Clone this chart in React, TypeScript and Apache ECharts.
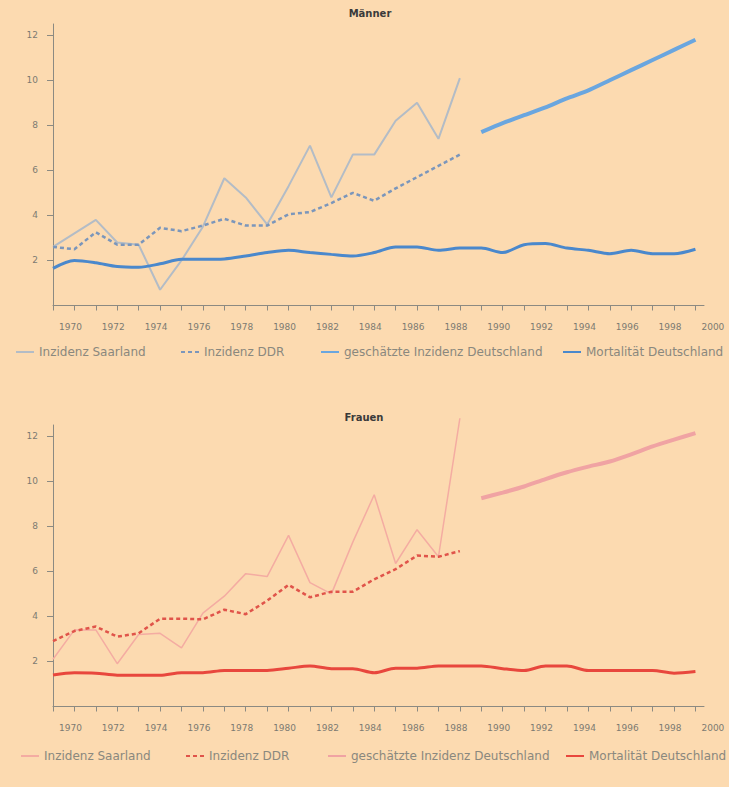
import React, { useEffect, useRef } from "react";
import * as echarts from "echarts";

// ---- categories / ticks ----
const yearsIncidence = [1970, 1971, 1972, 1973, 1974, 1975, 1976, 1977, 1978, 1979, 1980, 1981, 1982, 1983, 1984, 1985, 1986, 1987, 1988, 1989];
const yearsEstimate = [1990, 1991, 1992, 1993, 1994, 1995, 1996, 1997, 1998, 1999, 2000];
const yearsMortality = [1970, 1971, 1972, 1973, 1974, 1975, 1976, 1977, 1978, 1979, 1980, 1981, 1982, 1983, 1984, 1985, 1986, 1987, 1988, 1989, 1990, 1991, 1992, 1993, 1994, 1995, 1996, 1997, 1998, 1999, 2000];
const xLabelYears = [1970, 1972, 1974, 1976, 1978, 1980, 1982, 1984, 1986, 1988, 1990, 1992, 1994, 1996, 1998, 2000];
const yTickValues = [2, 4, 6, 8, 10, 12];

const legendNames = ["Inzidenz Saarland", "Inzidenz DDR", "geschätzte Inzidenz Deutschland", "Mortalität Deutschland"];
const panelTitles = ["Männer", "Frauen"];

// ---- Männer ----
const menSaarland = [2.6, 3.2, 3.8, 2.8, 2.7, 0.7, 2.0, 3.5, 5.65, 4.8, 3.6, 5.3, 7.1, 4.8, 6.7, 6.7, 8.2, 9.0, 7.4, 10.1];
const menDDR = [2.6, 2.5, 3.25, 2.7, 2.7, 3.45, 3.3, 3.55, 3.85, 3.55, 3.55, 4.05, 4.15, 4.55, 5.0, 4.65, 5.2, 5.7, 6.2, 6.7];
const menEstimate = [7.7, 8.1, 8.45, 8.8, 9.2, 9.55, 10.0, 10.45, 10.9, 11.35, 11.8];
const menMortality = [1.65, 2.0, 1.9, 1.73, 1.7, 1.85, 2.05, 2.05, 2.07, 2.2, 2.35, 2.45, 2.35, 2.27, 2.2, 2.35, 2.6, 2.6, 2.45, 2.55, 2.55, 2.35, 2.7, 2.75, 2.55, 2.45, 2.3, 2.45, 2.3, 2.3, 2.5];

// ---- Frauen ----
const womenSaarland = [2.1, 3.4, 3.4, 1.9, 3.2, 3.25, 2.6, 4.15, 4.9, 5.9, 5.77, 7.6, 5.5, 5.0, 7.3, 9.4, 6.35, 7.85, 6.65, 12.8];
const womenDDR = [2.9, 3.35, 3.55, 3.1, 3.25, 3.9, 3.9, 3.87, 4.3, 4.1, 4.7, 5.4, 4.85, 5.1, 5.1, 5.65, 6.1, 6.7, 6.65, 6.9];
const womenEstimate = [9.25, 9.5, 9.77, 10.1, 10.4, 10.65, 10.88, 11.2, 11.55, 11.85, 12.14];
const womenMortality = [1.4, 1.5, 1.48, 1.39, 1.39, 1.39, 1.5, 1.5, 1.6, 1.6, 1.6, 1.7, 1.8, 1.68, 1.68, 1.5, 1.7, 1.7, 1.8, 1.8, 1.8, 1.68, 1.6, 1.8, 1.8, 1.6, 1.6, 1.6, 1.6, 1.48, 1.55];

const BG = "#fcdab0";
const AXIS = "#8c8a82";
const LABEL = "#7c7a72";
const FONT = "'DejaVu Sans', 'Liberation Sans', sans-serif";
const SUFFIX = " (Frauen)";

function pairs(xs: number[], ys: number[]) {
  return xs.map((x, i) => [x, ys[i]]);
}

const grids = [
  { left: 53, top: 24, width: 651, height: 281.5 },
  { left: 53, top: 425, width: 651, height: 281.5 },
];

function xAxis(gridIndex: number) {
  return {
    type: "value",
    gridIndex,
    min: 1970,
    max: 2000.4,
    interval: 2,
    axisLine: { show: true, onZero: false, lineStyle: { color: AXIS, width: 1 } },
    axisTick: { show: true, customValues: yearsMortality, length: 5, lineStyle: { color: AXIS } },
    axisLabel: {
      customValues: xLabelYears,
      formatter: (v: number) => String(v),
      align: "left",
      padding: [0, 0, 0, 6],
      margin: 17,
      fontSize: 9,
      color: LABEL,
      fontFamily: FONT,
    },
    splitLine: { show: false },
  };
}

function yAxis(gridIndex: number) {
  return {
    type: "value",
    gridIndex,
    min: 0,
    max: 12.5,
    interval: 2,
    axisLine: { show: true, onZero: false, lineStyle: { color: AXIS, width: 1 } },
    axisTick: { show: true, customValues: yTickValues, length: 6, lineStyle: { color: AXIS } },
    axisLabel: {
      customValues: yTickValues,
      formatter: (v: number) => String(v),
      margin: 15,
      fontSize: 9,
      color: LABEL,
      fontFamily: FONT,
    },
    splitLine: { show: false },
  };
}

function panelSeries(
  idx: number,
  suffix: string,
  saar: number[],
  ddr: number[],
  est: number[],
  mort: number[],
  colors: { saar: string; ddr: string; est: string; mort: string },
  saarWidth: number
) {
  return [
    {
      name: legendNames[0] + suffix,
      type: "line",
      xAxisIndex: idx,
      yAxisIndex: idx,
      data: pairs(yearsIncidence, saar),
      symbol: "none",
      clip: false,
      lineStyle: { color: colors.saar, width: saarWidth },
      itemStyle: { color: colors.saar },
      z: 2,
    },
    {
      name: legendNames[1] + suffix,
      type: "line",
      xAxisIndex: idx,
      yAxisIndex: idx,
      data: pairs(yearsIncidence, ddr),
      symbol: "none",
      lineStyle: { color: colors.ddr, width: 2.5, type: [4, 3] },
      itemStyle: { color: colors.ddr },
      z: 3,
    },
    {
      name: legendNames[2] + suffix,
      type: "line",
      xAxisIndex: idx,
      yAxisIndex: idx,
      data: pairs(yearsEstimate, est),
      symbol: "none",
      smooth: 0.2,
      lineStyle: { color: colors.est, width: 4 },
      itemStyle: { color: colors.est },
      z: 3,
    },
    {
      name: legendNames[3] + suffix,
      type: "line",
      xAxisIndex: idx,
      yAxisIndex: idx,
      data: pairs(yearsMortality, mort),
      symbol: "none",
      smooth: 0.3,
      lineStyle: { color: colors.mort, width: 3 },
      itemStyle: { color: colors.mort },
      z: 4,
    },
  ];
}

function legends(top: number, suffix: string, lefts: number[]) {
  return legendNames.map((n, i) => ({
    top,
    left: lefts[i],
    padding: 0,
    itemWidth: 18,
    itemHeight: 10,
    selectedMode: false,
    itemStyle: { opacity: 0 },
    data: [n + suffix],
    formatter: (s: string) => s.replace(SUFFIX, ""),
    textStyle: { fontSize: 12, color: "#8a887e", fontFamily: FONT },
  }));
}

export default function App() {
  const ref = useRef<HTMLDivElement>(null);

  useEffect(() => {
    document.body.style.margin = "0";
    document.body.style.background = BG;
    const chart = echarts.init(ref.current!, undefined, { renderer: "svg" });
    const blue = { saar: "#b3bcc6", ddr: "#7b96bb", est: "#6aa6df", mort: "#4a88cc" };
    const red = { saar: "#f4aca2", ddr: "#e0544a", est: "#f0a3a3", mort: "#e8473d" };
    chart.setOption({
      animation: false,
      backgroundColor: BG,
      grid: grids,
      xAxis: [xAxis(0), xAxis(1)],
      yAxis: [yAxis(0), yAxis(1)],
      legend: [
        ...legends(346, "", [15, 180, 320, 562]),
        ...legends(750, SUFFIX, [20, 185, 327, 565]),
      ],
      graphic: [
        {
          type: "text",
          x: 370,
          y: 13,
          style: { text: panelTitles[0], font: "bold 10px 'DejaVu Sans', sans-serif", fill: "#3a3a3a", align: "center", verticalAlign: "middle" },
        },
        {
          type: "text",
          x: 364,
          y: 417,
          style: { text: panelTitles[1], font: "bold 10px 'DejaVu Sans', sans-serif", fill: "#3a3a3a", align: "center", verticalAlign: "middle" },
        },
      ],
      series: [
        ...panelSeries(0, "", menSaarland, menDDR, menEstimate, menMortality, blue, 2),
        ...panelSeries(1, SUFFIX, womenSaarland, womenDDR, womenEstimate, womenMortality, red, 1.5),
      ],
    });
    return () => chart.dispose();
  }, []);

  return (
    <div
      ref={ref}
      style={{ position: "absolute", left: 0, top: 0, width: 729, height: 787, background: BG }}
    />
  );
}
